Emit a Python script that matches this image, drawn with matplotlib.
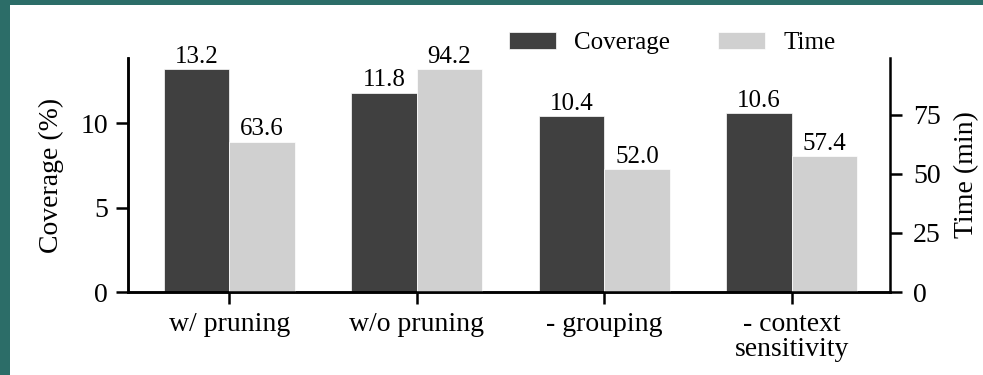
import numpy as np
import matplotlib
matplotlib.use("Agg")
import matplotlib.pyplot as plt
from matplotlib.patches import Rectangle

# --- DATA ---
categories = ["w/ pruning", "w/o pruning", "- grouping", "- context\nsensitivity"]
coverage = [13.2, 11.8, 10.4, 10.6]
time_min = [63.6, 94.2, 52.0, 57.4]
cov_ticks = [0, 5, 10]
time_ticks = [0, 25, 50, 75]

# --- STYLE ---
plt.rcParams["font.family"] = ["Liberation Serif", "DejaVu Serif"]
dark = "#404040"
light = "#d0d0d0"
W, H = 983, 375

fig = plt.figure(figsize=(W / 100, H / 100), dpi=100)
fig.patch.set_facecolor("#2c6d68")
# white page area inside the teal frame
fig.patches.append(Rectangle((10 / W, 0), 1 - 10 / W, 1 - 5 / H,
                             transform=fig.transFigure, facecolor="white",
                             edgecolor="none", zorder=-10))

ax = fig.add_axes([128 / W, 1 - 292 / H, (890 - 128) / W, (292 - 58) / H])
ax.set_facecolor("none")
ax2 = ax.twinx()

x = np.arange(len(categories))
bw = 0.35
b1 = ax.bar(x - bw / 2, coverage, bw, color=dark, edgecolor="white",
            linewidth=0.5, label="Coverage")
b2 = ax2.bar(x + bw / 2, time_min, bw, color=light, edgecolor="white",
             linewidth=0.5, label="Time")

ax.bar_label(b1, labels=[f"{v:.1f}" for v in coverage], fontsize=18, padding=1)
ax2.bar_label(b2, labels=[f"{v:.1f}" for v in time_min], fontsize=18, padding=1)

ax.set_xlim(-0.54, 3.525)
ax.set_ylim(0, max(coverage) * 1.05)
ax2.set_ylim(0, max(time_min) * 1.05)

ax.set_xticks(x)
ax.set_xticklabels(categories, fontsize=20, linespacing=1.0)
ax.set_yticks(cov_ticks)
ax2.set_yticks(time_ticks)
ax.set_ylabel("Coverage (%)", fontsize=20, labelpad=12)
ax2.set_ylabel("Time (min)", fontsize=20, labelpad=10)

for a in (ax, ax2):
    a.spines["top"].set_visible(False)
    for s in a.spines.values():
        s.set_linewidth(1.8)
    a.tick_params(width=1.8, length=8.5, labelsize=20, pad=6)
ax2.tick_params(pad=8)
ax.spines["right"].set_visible(False)

h1, l1 = ax.get_legend_handles_labels()
h2, l2 = ax2.get_legend_handles_labels()
ax2.legend(h1 + h2, l1 + l2, loc="center", bbox_to_anchor=(0.714, 1.065),
           ncol=2, frameon=False, fontsize=18, handlelength=1.9,
           handleheight=0.68, columnspacing=1.9, handletextpad=0.72)

fig.savefig("out.png", dpi=100, facecolor=fig.get_facecolor())
